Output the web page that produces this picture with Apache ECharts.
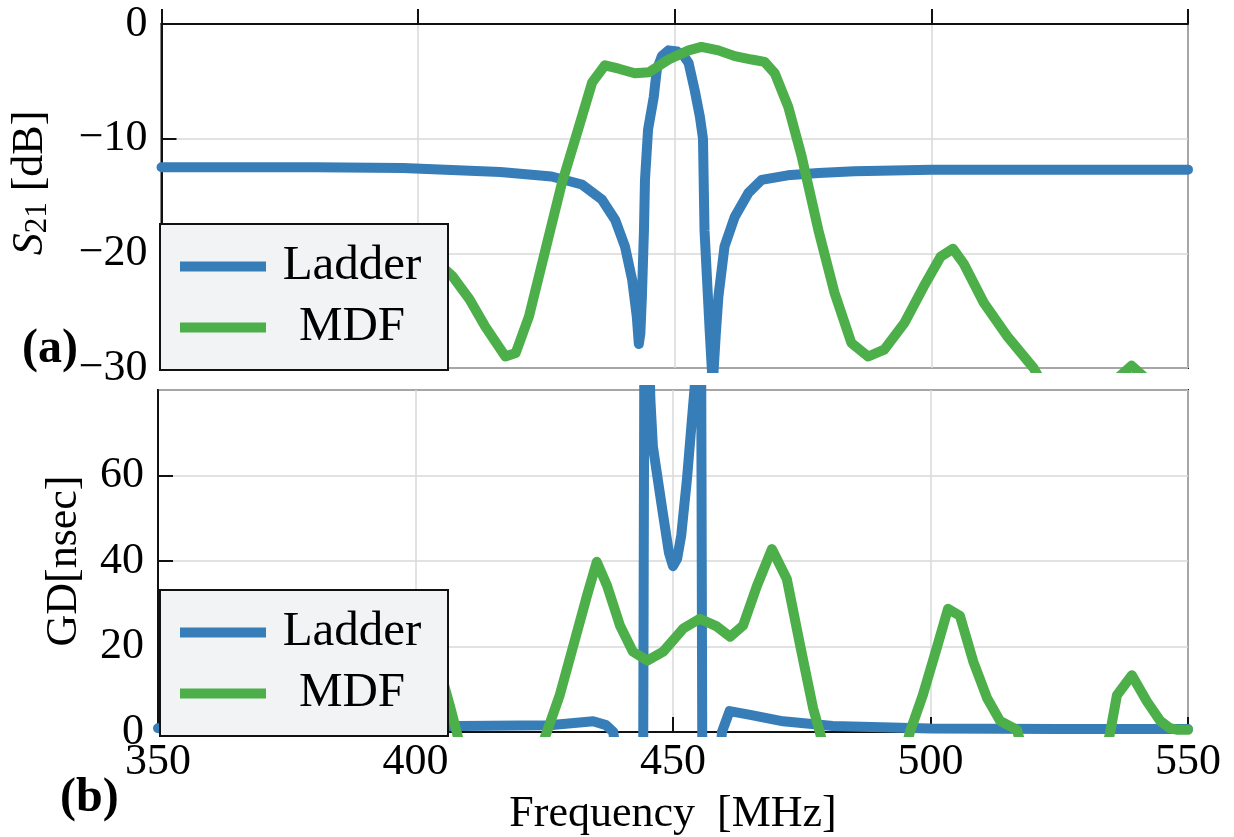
<!DOCTYPE html>
<html>
<head>
<meta charset="utf-8">
<script src="https://cdn.jsdelivr.net/npm/echarts@6/dist/echarts.min.js"></script>
<style>
html,body{margin:0;padding:0;background:#fff;}
#chart{width:1234px;height:837px;}
</style>
</head>
<body>
<div id="chart"></div>
<script>
// ---------- data ----------
const seriesNames = ['Ladder', 'MDF'];
const xTicks = [350, 400, 450, 500, 550];
const s21Ticks = [-30, -20, -10, 0];
const gdTicks = [0, 20, 40, 60, 80];

// (a) S21 [dB]
const ladderS21Freq = [350, 380, 397, 416, 426, 431.9, 435.8, 438.4, 440.3, 441.7, 442.6, 443, 443.3, 443.6, 444, 444.2, 444.8, 445.9, 446.5, 447.5, 448.8, 450.5, 451.8, 452.7, 453.9, 454.9, 455.5, 455.8, 456.8, 457.4, 458, 458.5, 459.7, 461.7, 464.4, 466.9, 472, 478, 485, 500, 525, 550];
const ladderS21 =     [-12.5, -12.5, -12.55, -12.9, -13.3, -14, -15.3, -17.1, -19.4, -22.3, -25.5, -27.9, -27, -23.8, -18, -13.6, -9.2, -6.4, -4, -2.8, -2.3, -2.4, -2.8, -3.4, -5.8, -8.1, -10, -18, -26.7, -31.5, -27, -23.8, -19.4, -16.8, -14.7, -13.6, -13.2, -13.0, -12.85, -12.7, -12.7, -12.7];

const mdfS21Freq = [360, 365, 370, 378, 385, 390, 396, 400, 403, 406.7, 410, 413.1, 417, 419, 421.6, 424.8, 428, 431.3, 433.9, 436.4, 439.1, 442.2, 445, 448.8, 452.7, 455.2, 458.5, 461.7, 465, 467.5, 469.5, 472.1, 474.7, 478, 481.1, 484.4, 487.7, 490.8, 494.7, 498.5, 501.8, 504.2, 506.3, 510.2, 514.9, 519.9, 525, 532, 536, 539, 542, 546, 550];
const mdfS21 =     [-27, -26.5, -27.5, -28.5, -25, -22.5, -20.4, -19.6, -20.5, -22, -24, -26.4, -29, -28.7, -25.5, -19.7, -13.9, -9, -5.1, -3.6, -3.9, -4.3, -4.2, -3.1, -2.3, -2.0, -2.3, -2.8, -3.1, -3.3, -4.3, -7.2, -11.5, -18, -23.4, -27.8, -29, -28.4, -26.1, -22.9, -20.3, -19.6, -20.9, -24.3, -27.3, -30, -34, -33, -31, -29.8, -31, -36, -40];

// (b) GD [nsec]
const ladderGDFreq = [350, 380, 408.6, 426, 434.5, 437, 438.4, 439.5, 444.2, 444.6, 445.0, 445.6, 446.1, 448, 449.2, 450, 450.8, 451.6, 452.7, 453.6, 454.3, 454.8, 455.3, 455.7, 459, 459.5, 461, 465, 471.4, 481, 500, 525, 550];
const ladderGD =     [0.9, 1.0, 1.4, 1.6, 2.5, 1.6, 0, -10, -10, 160, 110, 78, 66.7, 51.4, 42, 38.8, 40.5, 46, 59, 72, 82, 110, 160, -10, -10, 0, 4.9, 4, 2.5, 1.4, 0.8, 0.7, 0.7];

const mdfGDFreq = [350, 393, 396, 398.5, 400.5, 403, 406.7, 408, 409, 424, 425.5, 428, 430.6, 433.3, 435.2, 437.2, 439.7, 442.2, 445, 448.1, 452, 455.2, 458.5, 461.1, 463.6, 466.3, 469.2, 472.1, 474.7, 477.2, 478.5, 479.5, 495, 496, 498.5, 501.3, 503.4, 505.7, 508.3, 511, 513.5, 516.8, 518, 534, 534.9, 536.2, 539.1, 542, 544.6, 546.5, 548, 550];
const mdfGD =     [-8, -8, 5, 20, 29, 22, 6, 0, -5, -5, 0, 8.6, 20, 31.9, 39.8, 34.2, 24.9, 18.8, 16.7, 18.8, 24.2, 26.5, 24.7, 22.3, 24.9, 34.2, 42.8, 35.8, 20.2, 5.6, 0, -5, -5, 0, 8.6, 20, 28.8, 27.2, 16.5, 7.9, 2.6, 0.5, -5, -5, 0, 8.6, 13.3, 7.2, 2.6, 0.9, 0.5, 0.5];

// ---------- build ----------
const zip = (xs, ys) => xs.map((x, i) => [x, ys[i]]);
const FONT = '"Liberation Serif", "Times New Roman", serif';
const BLUE = '#377eb8', GREEN = '#4daf4a';
const minus = v => (v < 0 ? '\u2212' + Math.abs(v) : String(v));

function xAxisCfg(gridIndex, showLabel) {
  return {
    type: 'value', gridIndex: gridIndex,
    min: xTicks[0], max: xTicks[xTicks.length - 1], interval: xTicks[1] - xTicks[0],
    axisLine: { show: true, lineStyle: { color: '#111', width: 2 } },
    axisTick: { show: true, inside: true, length: 15, lineStyle: { color: '#111', width: 2 } },
    axisLabel: { show: showLabel, fontFamily: FONT, fontSize: 44, color: '#000', margin: 8 },
    splitLine: { show: true, lineStyle: { color: '#d8d8d8', width: 1.5 } },
    name: showLabel ? 'Frequency  [MHz]' : '',
    nameLocation: 'middle', nameGap: 60,
    nameTextStyle: { fontFamily: FONT, fontSize: 44, color: '#000' }
  };
}
function yAxisCfg(gridIndex, ticks, name, gap, nameStyle) {
  return {
    type: 'value', gridIndex: gridIndex,
    min: ticks[0], max: ticks[ticks.length - 1], interval: ticks[1] - ticks[0],
    axisLine: { show: true, lineStyle: { color: '#111', width: 2 } },
    axisTick: { show: true, inside: true, length: 15, lineStyle: { color: '#111', width: 2 } },
    axisLabel: { fontFamily: FONT, fontSize: 44, color: '#000', margin: 14, formatter: minus,
                 showMaxLabel: gridIndex === 0 },
    splitLine: { show: true, lineStyle: { color: '#d8d8d8', width: 1.5 } },
    name: name, nameLocation: 'middle', nameRotate: 90, nameGap: gap,
    nameTextStyle: nameStyle
  };
}
function legendCfg(top) {
  return {
    orient: 'vertical', left: 160, top: top,
    data: seriesNames, icon: 'rect', itemWidth: 86, itemHeight: 10, itemGap: 12,
    padding: [18, 15, 18, 20], backgroundColor: '#f2f3f5', borderColor: '#111', borderWidth: 2, borderRadius: 0,
    selectedMode: false,
    formatter: n => '{t|' + n + '}',
    textStyle: { fontFamily: FONT, fontSize: 49, color: '#000',
      rich: { t: { width: 162, align: 'center', fontFamily: FONT, fontSize: 49, lineHeight: 40, color: '#000' } } }
  };
}
function lineSeries(name, color, xi, data) {
  return { name: name, type: 'line', xAxisIndex: xi, yAxisIndex: xi, data: data,
    showSymbol: false, symbol: 'none', color: color,
    lineStyle: { color: color, width: 10, join: 'round', cap: 'round' }, z: 3 };
}

const option = {
  animation: false,
  backgroundColor: '#fff',
  grid: [
    { left: 158, top: 24, width: 1030, height: 344, show: true, borderColor: '#111', borderWidth: 2, backgroundColor: 'transparent' },
    { left: 158, top: 390, width: 1030, height: 344, show: true, borderColor: '#111', borderWidth: 2, backgroundColor: 'transparent' }
  ],
  xAxis: [xAxisCfg(0, false), xAxisCfg(1, true)],
  yAxis: [
    yAxisCfg(0, s21Ticks, '{s|S}{sub|21}{t| [dB]}', 108, {
      fontFamily: FONT, fontSize: 44, color: '#000', padding: [0, 0, 0, 26],
      rich: { s: { fontFamily: FONT, fontSize: 44, fontStyle: 'italic', color: '#000' },
              sub: { fontFamily: FONT, fontSize: 31, color: '#000', padding: [16, 0, 0, 0] },
              t: { fontFamily: FONT, fontSize: 44, color: '#000' } } }),
    yAxisCfg(1, gdTicks, 'GD[nsec]', 72, { fontFamily: FONT, fontSize: 44, color: '#000' })
  ],
  legend: [legendCfg(224), legendCfg(590)],
  series: [
    lineSeries(seriesNames[0], BLUE, 0, zip(ladderS21Freq, ladderS21)),
    lineSeries(seriesNames[1], GREEN, 0, zip(mdfS21Freq, mdfS21)),
    lineSeries(seriesNames[0], BLUE, 1, zip(ladderGDFreq, ladderGD)),
    lineSeries(seriesNames[1], GREEN, 1, zip(mdfGDFreq, mdfGD))
  ],
  graphic: [
    { type: 'text', left: 22, top: 326, z: 100, style: { text: '(a)', font: 'bold 48px ' + FONT, fill: '#000' } },
    { type: 'text', left: 60, top: 775, z: 100, style: { text: '(b)', font: 'bold 48px ' + FONT, fill: '#000' } }
  ]
};

const chart = echarts.init(document.getElementById('chart'), null, { renderer: 'canvas' });
chart.setOption(option);
</script>
</body>
</html>
